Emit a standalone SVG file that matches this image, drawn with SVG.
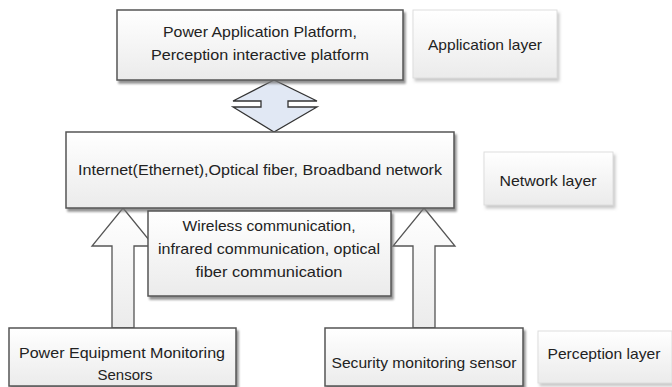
<svg xmlns="http://www.w3.org/2000/svg" width="672" height="387" viewBox="0 0 672 387">
<defs>
<linearGradient id="g" x1="0" y1="0" x2="0" y2="1"><stop offset="0" stop-color="#ffffff"/><stop offset="1" stop-color="#ebebeb"/></linearGradient>
<filter id="sh" x="-10%" y="-10%" width="130%" height="140%"><feDropShadow dx="2" dy="3" stdDeviation="1.2" flood-color="#777" flood-opacity="0.8"/></filter>
<filter id="sh2" x="-10%" y="-10%" width="130%" height="140%"><feDropShadow dx="2" dy="3" stdDeviation="1.5" flood-color="#bbb" flood-opacity="0.8"/></filter>
</defs>
<style>
.box{fill:url(#g);stroke:#555;stroke-width:1.5;filter:url(#sh)}
.lay{fill:url(#g);stroke:#ddd;stroke-width:1;filter:url(#sh2)}
.arr{fill:url(#g);stroke:#555;stroke-width:1.3;stroke-linejoin:miter}
.dia{fill:#e1e8f4;stroke:#333;stroke-width:1.3}
text{font-family:"Liberation Sans",Arial,sans-serif;font-size:15px;fill:#222;text-anchor:middle}
</style>
<g id="connectors">
<path class="dia" d="M274,80 L233,101 L261,101 L261,107 L233,107 L274,132 L317,107 L288,107 L288,101 L317,101 Z"/>
<path class="arr" d="M123,208 L154,246 L134,246 L134,328 L112,328 L112,246 L92,246 Z"/>
<path class="arr" d="M424,208 L455,246 L435,246 L435,328 L413,328 L413,246 L393,246 Z"/>
</g>
<g id="app-platform">
<rect class="box" x="117" y="10" width="286" height="70"/>
<text x="260" y="37" textLength="194" lengthAdjust="spacingAndGlyphs">Power Application Platform,</text>
<text x="260" y="60" textLength="218" lengthAdjust="spacingAndGlyphs">Perception interactive platform</text>
</g>
<g id="application-layer">
<rect class="lay" x="413" y="10" width="144" height="68"/>
<text x="485" y="50" textLength="114" lengthAdjust="spacingAndGlyphs">Application layer</text>
</g>
<g id="network">
<rect class="box" x="66" y="132" width="388" height="76"/>
<text x="260" y="175" textLength="364" lengthAdjust="spacingAndGlyphs">Internet(Ethernet),Optical fiber, Broadband network</text>
</g>
<g id="network-layer">
<rect class="lay" x="484" y="152" width="129" height="53"/>
<text x="548" y="186" textLength="97" lengthAdjust="spacingAndGlyphs">Network layer</text>
</g>
<g id="wireless">
<rect class="box" x="148" y="211" width="243" height="85"/>
<text x="269" y="231" textLength="173" lengthAdjust="spacingAndGlyphs">Wireless communication,</text>
<text x="269" y="254" textLength="222" lengthAdjust="spacingAndGlyphs">infrared communication, optical</text>
<text x="269" y="277" textLength="147" lengthAdjust="spacingAndGlyphs">fiber communication</text>
</g>
<g id="power-sensors">
<rect class="box" x="9" y="328" width="227" height="58"/>
<text x="122" y="358" textLength="206" lengthAdjust="spacingAndGlyphs">Power Equipment Monitoring</text>
<text x="125" y="380">Sensors</text>
</g>
<g id="security-sensor">
<rect class="box" x="325" y="328" width="198" height="58"/>
<text x="424" y="368" textLength="185" lengthAdjust="spacingAndGlyphs">Security monitoring sensor</text>
</g>
<g id="perception-layer">
<rect class="lay" x="538" y="331" width="134" height="52"/>
<text x="604" y="359" textLength="113" lengthAdjust="spacingAndGlyphs">Perception layer</text>
</g>
</svg>
